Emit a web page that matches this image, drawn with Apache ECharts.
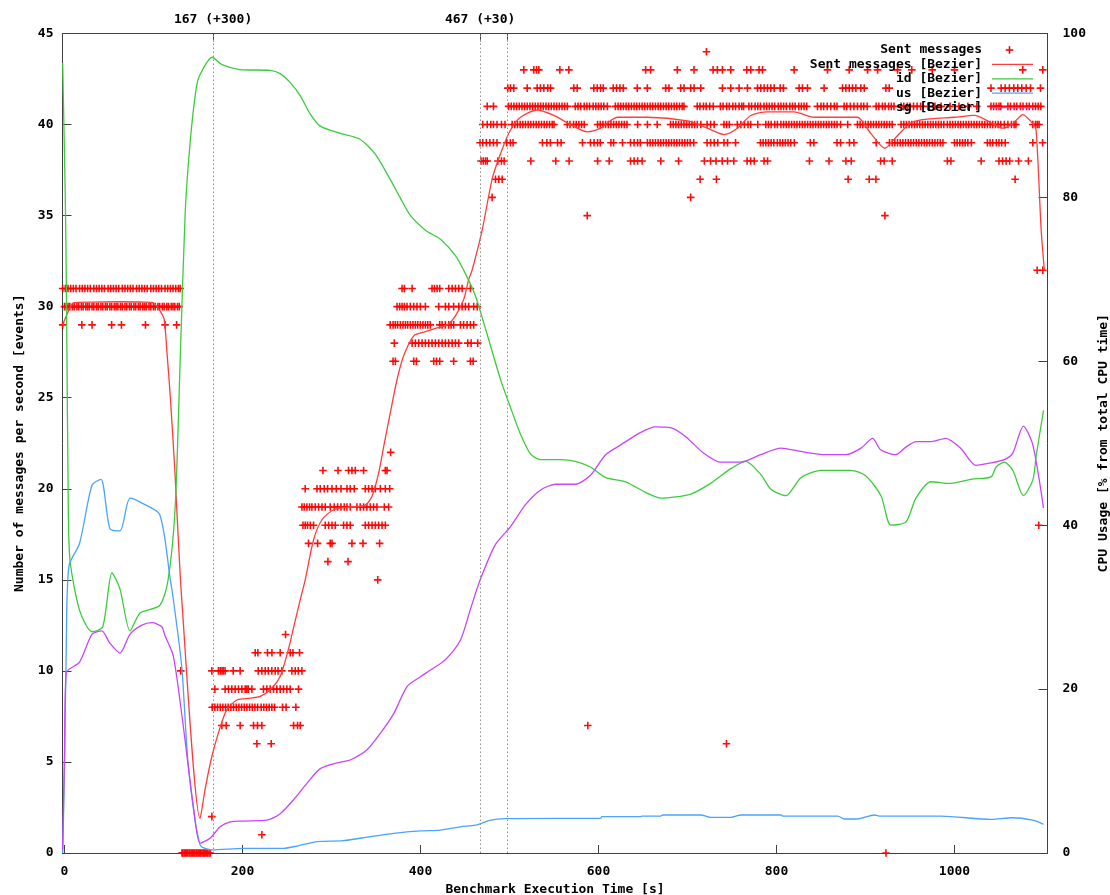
<!DOCTYPE html>
<html>
<head>
<meta charset="utf-8">
<script src="https://cdn.jsdelivr.net/npm/echarts@6/dist/echarts.min.js"></script>
<style>
html,body{margin:0;padding:0;background:#fff;overflow:hidden;}
#chart{width:1110px;height:895px;}
</style>
</head>
<body>
<div id="chart"></div>
<script>
// ---------- axis / label data ----------
const xTicks = [0, 200, 400, 600, 800, 1000];
const phaseMarks = [167, 467, 497];
const phaseLabelValues = [167, 467];
const phaseLabelTexts = ['167 (+300)', '467 (+30)'];
const leftTitle = 'Number of messages per second [events]';
const rightTitle = 'CPU Usage [% from total CPU time]';
const bottomTitle = 'Benchmark Execution Time [s]';
const legendNames = ['Sent messages', 'Sent messages [Bezier]', 'id [Bezier]', 'us [Bezier]', 'sg [Bezier]'];

// ---------- "Sent messages" points: [value, [x positions]] ----------
const sentPhase1 = [
  [31, [-2, 1, 4, 7, 10, 13, 17, 20, 23, 26, 29, 33, 36, 39, 42, 45, 49, 52, 55, 58, 61, 65, 68, 71, 74, 77, 81, 84, 87, 90, 93, 97, 100, 103, 106, 109, 113, 116, 119, 122, 125, 128, 130]],
  [30, [0, 2, 4, 6, 9, 11, 14, 16, 19, 21, 24, 26, 28, 31, 33, 36, 38, 41, 43, 46, 48, 51, 53, 56, 58, 60, 63, 65, 68, 70, 73, 75, 78, 80, 83, 85, 88, 90, 92, 95, 97, 100, 102, 105, 107, 110, 112, 115, 117, 120, 122, 124, 127, 129]],
  [29, [-2, 19.5, 31, 53, 64, 91, 113, 126]]
];
const sentIdle = [
  [0, [132, 133, 134.5, 136, 137, 138.5, 140, 141, 142.5, 144, 145, 146.5, 148, 149, 150.5, 152, 153, 154.5, 156, 157, 158.5, 160, 161, 162.5, 164, 923]],
  [2, [165.6]],
  [1, [221.8]]
];
const sentPhase2 = [
  [12, [248.4]],
  [11, [214.3, 217.3, 228.1, 233.1, 242.4, 253.7, 256.7, 264.1]],
  [10, [130.7, 165.6, 173, 175, 177, 178.5, 180.5, 189.6, 197.4, 217.7, 221.8, 225.6, 229, 233, 236.8, 240, 244.3, 255.5, 259.3, 262.7, 266.8]],
  [9, [169, 180.5, 184.3, 188, 191.8, 195.5, 199.3, 203, 204.8, 206.5, 210.6, 223.6, 227.4, 231.1, 234.9, 238.6, 242.4, 246.1, 249.9, 253.6, 263]],
  [8, [166, 169, 172, 175, 178, 181, 184, 187, 190, 193, 196, 199, 202, 205, 208, 211, 214, 217, 221, 224, 227, 230, 233, 236, 245, 249, 260]],
  [7, [176.8, 181.7, 197.4, 212.4, 216.9, 221.8, 257.4, 261.9, 264.9]],
  [6, [216.2, 232.3]]
];
const sentPhase3 = [
  [22, [366.5]],
  [21, [290.4, 307.3, 319.2, 323, 326.8, 336.1, 360.5, 362.4]],
  [20, [270.5, 283.7, 287.4, 291.9, 295.6, 300.6, 305.4, 310.7, 317.4, 321.1, 325.6, 338, 341.7, 345.6, 349.3, 354.9, 360.5, 365.4]],
  [19, [266.8, 269.4, 272.4, 275.4, 278, 281.8, 285.5, 289.3, 293, 298.6, 303.1, 306.9, 310.7, 314.4, 317.4, 321.1, 328.6, 332.3, 336.1, 339.8, 343.6, 347.3, 351.1, 359.4, 364.2]],
  [18, [268, 270.5, 273.1, 276.2, 279.9, 293, 296.8, 300.6, 304.3, 313.6, 317.4, 321.1, 338, 341.7, 345.6, 349.3, 353, 356.8, 360.5]],
  [17, [274.2, 284.4, 298.6, 300.6, 323, 335.4, 354.1]],
  [16, [296, 318.6]],
  [15, [352]]
];
const sentPhase4 = [
  [31, [379.3, 381.9, 390.6, 413, 415.7, 418.7, 421.6, 431.8, 435.6, 439.3, 443, 446.8, 456.1]],
  [30, [373.7, 376.6, 379.3, 381.9, 384.9, 388.6, 392.4, 396.1, 399.9, 405.5, 420.5, 428, 431.8, 437.3, 443, 446.8, 450.5, 454.2, 459.8, 463.7]],
  [29, [366, 369.2, 371.7, 374.3, 377.4, 380.4, 383.1, 385.6, 388.6, 391.6, 394.3, 396.9, 399.8, 402.8, 405.6, 408.2, 411, 421.6, 424.3, 428, 431.7, 434.4, 437.3, 444.9, 448.5, 452.4, 456.1, 459.8]],
  [28, [370.6, 390.6, 394.3, 398, 401.8, 405.5, 409.2, 413, 416.8, 420.5, 424.3, 428, 431.7, 435.6, 439.3, 443, 453.1, 456.9, 464.3]],
  [27, [369.2, 371.8, 392.4, 395.4, 414.9, 418, 421.6, 437.3, 456.1, 459.2]]
];
const sentPhase5 = [
  [44, [721.3]],
  [43, [516.1, 527.3, 530.4, 533, 556.6, 566.7, 653, 658.6, 688.6, 707.3, 728.7, 733.6, 739.3, 748.6, 766.6, 771.1, 780.4, 784.3, 819.8, 857.3, 881.7, 902.3, 913.6, 936, 952, 975, 1000, 1076.7, 1099.2]],
  [42, [498.1, 501.1, 504.8, 519.9, 531.1, 534.8, 538.6, 543, 546.1, 572.3, 576.1, 594.8, 598.6, 602.3, 605.4, 616.6, 620.3, 624.1, 627.9, 643.6, 654.9, 675.5, 679.2, 692.4, 696.1, 703.6, 707.4, 714.9, 739.3, 748.6, 758, 767.4, 778.7, 782.4, 786.1, 789.9, 793.6, 797.4, 804.1, 807.8, 825.4, 829.2, 834.8, 853.5, 874.2, 877.9, 881.7, 885.4, 889.2, 894.8, 898.6, 922.9, 926.7, 1041, 1052.4, 1056.9, 1061.7, 1066.6, 1071.1, 1075.6, 1080.5, 1085.4, 1096.6]],
  [41, [475, 482, 499, 502, 505, 508, 511, 514, 517, 520, 523, 526, 529, 532, 535, 538, 541, 544, 547, 550, 553, 556, 559, 562, 565, 574, 577, 580, 584, 587, 590, 594, 597, 600, 603, 606, 610, 619, 622, 625, 628, 631, 634, 637, 640, 643, 646, 649, 652, 655, 658, 661, 664, 667, 670, 673, 676, 679, 682, 685, 688, 691, 694, 696, 711, 714, 718, 721, 725, 729, 737, 740, 744, 747, 751, 754, 758, 761, 763, 769, 772, 776, 779, 782, 786, 789, 792, 795, 798, 802, 805, 808, 811, 815, 818, 821, 825, 828, 831, 834, 846, 850, 853, 857, 861, 865, 868, 876, 879, 883, 887, 891, 895, 898, 902, 912, 915, 919, 922, 926, 929, 932, 940, 943, 947, 950, 954, 958, 962, 970, 978, 985, 995, 1005, 1015, 1025, 1041, 1044, 1047, 1050, 1052, 1060, 1063, 1067, 1070, 1074, 1077, 1081, 1084, 1088, 1091, 1094, 1097]],
  [40, [470, 475, 479, 482, 486, 491, 495, 503, 506, 509, 512, 515, 518, 521, 524, 527, 530, 533, 536, 539, 542, 545, 548, 550, 565, 568, 572, 575, 578, 581, 584, 599, 602, 605, 608, 611, 614, 617, 620, 623, 626, 629, 632, 644, 655, 666, 681, 684, 687, 690, 693, 696, 699, 702, 705, 708, 711, 715, 722, 726, 730, 741, 744, 747, 756, 760, 764, 768, 771, 779, 788, 791, 794, 798, 801, 805, 808, 811, 814, 817, 820, 823, 826, 829, 832, 835, 838, 841, 844, 847, 850, 853, 856, 859, 862, 865, 868, 872, 880, 891, 894, 897, 900, 903, 906, 909, 912, 915, 918, 921, 924, 927, 930, 940, 943, 946, 949, 952, 955, 958, 961, 964, 967, 970, 973, 976, 979, 982, 985, 988, 992, 995, 998, 1001, 1004, 1007, 1010, 1013, 1016, 1019, 1022, 1025, 1028, 1031, 1034, 1037, 1040, 1043, 1046, 1049, 1052, 1056, 1060, 1064, 1067, 1069, 1088, 1091, 1093, 1095]],
  [39, [467, 470, 474, 478, 482, 486, 497, 501, 504, 537, 542, 546, 554, 558, 582, 591, 595, 599, 602, 614, 617, 627, 636, 640, 644, 647, 655, 658, 661, 664, 667, 670, 673, 676, 679, 682, 685, 688, 691, 694, 697, 700, 703, 707, 722, 726, 730, 734, 741, 745, 754, 782, 785, 788, 791, 794, 797, 801, 804, 807, 810, 813, 816, 820, 838, 842, 868, 872, 882, 887, 912, 927, 930, 933, 936, 939, 942, 945, 948, 951, 954, 957, 960, 963, 966, 969, 972, 975, 978, 981, 984, 987, 1000, 1003, 1006, 1009, 1012, 1015, 1019, 1037, 1040, 1043, 1047, 1050, 1053, 1057, 1088, 1099]],
  [38, [468, 470.5, 473, 475, 487, 491, 494, 524, 552, 567, 599, 612, 636, 640, 644, 649, 670, 690, 719, 726, 732, 739, 745, 752, 767, 771, 775, 786, 790, 837, 859, 878, 884, 917, 921, 930, 992, 996, 1030, 1050, 1054, 1058, 1062, 1072, 1083]],
  [37, [484.3, 488, 491.8, 714.2, 732.5, 880.5, 904.2, 911.7, 1068.1]],
  [36, [480.5, 703.6]],
  [35, [587.4, 921.8]],
  [32, [1092.9, 1099.2]],
  [18, [1094.7]],
  [7, [588]],
  [6, [743.8]]
];

// ---------- Bezier curves ----------
const sentBezier = [[-2, 29], [3, 29.6], [10, 30.2], [30, 30.25], [60, 30.27], [90, 30.25], [100, 30.2], [107, 29.8], [112, 29.3], [115, 27.6], [119, 25], [124, 21], [131.8, 13.9], [152.4, 1.9], [158, 3.5], [165.6, 5.3], [174.9, 6.9], [182.4, 7.86], [193.7, 8.4], [208.7, 8.5], [220, 8.6], [231.2, 8.96], [242.4, 9.7], [251.7, 11.2], [258, 12.5], [264.9, 13.9], [270.5, 15], [279.9, 17.2], [289.3, 18.3], [302.4, 18.85], [321.1, 19], [338, 19.1], [345.6, 19.6], [353, 20.86], [358.6, 22.3], [366.2, 24.2], [373.7, 26], [381.1, 27.3], [392.4, 28.4], [403.6, 28.6], [416, 28.8], [429.9, 29], [439.3, 29.5], [448.6, 30.4], [454.2, 31.5], [458, 32], [469.3, 34.2], [480.5, 37], [489.9, 38.4], [501.1, 39.7], [512.4, 40.4], [531.1, 40.8], [549.8, 40.5], [568.6, 40], [587.4, 39.6], [602.4, 39.8], [621.1, 40.4], [654.9, 40.4], [699.9, 40.2], [722.4, 39.8], [741.1, 39.45], [756.1, 39.8], [771.1, 40.5], [789.9, 40.7], [819.8, 40.7], [842.3, 40.4], [883.6, 40.4], [891.1, 40.4], [906.1, 39.5], [921.8, 38.7], [932.3, 39.2], [951.1, 40.1], [969.8, 40.3], [999.8, 40.4], [1022.3, 40.5], [1041.1, 40.1], [1054.2, 39.8], [1065.5, 40.05], [1076.7, 40.55], [1088, 40.05], [1091.7, 39.7], [1097.4, 34.2], [1101, 32]];
const idBezier = [[-2, 96.4], [0.6, 82], [1.7, 74], [2.8, 61], [4, 46], [6, 36], [17, 29.6], [31, 27], [43, 27.6], [53.4, 34.2], [62.4, 32.2], [73.7, 27.1], [85, 29.3], [107, 30.2], [116.4, 33.3], [124.3, 42], [130, 60], [135.6, 78], [141.2, 86.7], [148, 93.3], [152.4, 95], [166, 97.1], [177, 96.2], [197, 95.6], [231, 95.5], [242.4, 95.1], [253.7, 94], [265, 92.4], [276, 90.2], [287.4, 88.7], [310, 87.8], [332, 87.1], [349, 85.3], [366, 82.2], [377, 80], [388.6, 77.8], [405.5, 76], [422.4, 74.9], [439.3, 72.9], [450.5, 70.7], [461.7, 68], [473, 64], [489.9, 57.8], [501, 54.4], [512.4, 51.1], [523.6, 48.7], [535, 48], [557, 48], [574, 47.8], [591, 47.1], [608, 45.8], [630.5, 45.3], [653, 44], [670, 43.3], [703.6, 43.8], [726, 45.1], [748.6, 46.9], [765.5, 47.8], [782.3, 46.2], [793.6, 44.4], [810.5, 43.6], [827.4, 45.8], [849.9, 46.7], [883.6, 46.7], [900.5, 46], [917.4, 43.6], [928.6, 40], [945.5, 40.4], [956.7, 43.3], [973.6, 45.3], [996, 45.1], [1018.6, 45.6], [1041.1, 45.9], [1046.7, 47.1], [1056, 47.7], [1065.5, 46.7], [1077.4, 43.6], [1088, 45.5], [1091.7, 48.4], [1100, 54]];
const usBezier = [[-2, 0], [0, 10], [2, 25], [5, 35], [17, 37.8], [31, 44.9], [41, 45.6], [51, 39.6], [62.4, 39.3], [73.7, 43.3], [87, 42.7], [107, 41.3], [119, 33.3], [122.4, 30.9], [131.8, 22.7], [139.3, 10.5], [152.4, 1], [165.6, 0.37], [201.1, 0.57], [246.1, 0.57], [261.2, 0.85], [283.7, 1.4], [313.6, 1.5], [343.6, 2], [369.9, 2.4], [399.9, 2.7], [422, 2.8], [445, 3.2], [462, 3.4], [479, 4], [495, 4.2], [557, 4.23], [602, 4.23], [604, 4.43], [647, 4.43], [649, 4.5], [670, 4.5], [672, 4.64], [715, 4.64], [726, 4.35], [749, 4.35], [760, 4.64], [805, 4.64], [807, 4.5], [869, 4.5], [876, 4.15], [891, 4.15], [910, 4.64], [917, 4.5], [985, 4.5], [1041, 4.1], [1065, 4.3], [1088, 4.0], [1100, 3.5]];
const sgBezier = [[-2, 0.5], [0, 12], [2, 22], [17, 23.3], [31, 26.7], [42, 27.1], [51, 25.6], [62.4, 24.4], [73.7, 26.7], [87, 27.8], [98.4, 28.1], [109.3, 27.6], [113, 26.5], [122.4, 24], [133.6, 15.4], [144.9, 5.65], [152.4, 1.2], [163.7, 1.8], [174.9, 3.2], [186.2, 3.8], [201.1, 3.9], [227.4, 4.0], [242.4, 4.8], [257.4, 6.5], [272.4, 8.5], [287.4, 10.3], [310, 11.1], [321.1, 11.35], [340, 12.6], [354.9, 14.6], [369.9, 17], [384.9, 20.3], [399.9, 21.5], [411, 22.3], [428, 23.6], [445, 26], [456, 29.7], [467, 33.3], [484, 37.6], [501, 39.8], [518, 42.5], [535, 44.3], [552, 45], [574, 45], [591, 46.1], [608, 48.6], [625, 49.8], [647, 51.3], [664, 52], [681, 51.9], [698, 50.8], [717, 48.9], [737, 47.7], [760, 47.7], [782, 48.6], [805, 49.4], [827, 49], [855, 48.6], [878, 48.6], [895, 49.4], [908, 50.6], [917, 49.2], [934, 48.6], [945, 49.5], [957, 50.2], [974, 50.2], [990, 50.6], [1007, 49.4], [1024, 47.3], [1041.1, 47.6], [1056, 48], [1065.5, 48.8], [1077.4, 52.1], [1088, 49.8], [1100, 42.1]];

// ---------- build ----------
function expandRows(groups) {
  const out = [];
  groups.forEach(rows => rows.forEach(([v, xs]) => xs.forEach(x => out.push([x, v]))));
  return out;
}
const sentPoints = expandRows([sentPhase1, sentIdle, sentPhase2, sentPhase3, sentPhase4, sentPhase5]);

const FONT = 'DejaVu Sans Mono';
const txt = { fontFamily: FONT, fontSize: 13, fontWeight: 'bold', color: '#000' };
const FRAME = '#404040';
const PLUS = 'path://M3,0H4.6V7.6H3Z M0,3H7.6V4.6H0Z';
const colors = { pts: '#ff0000', sent: '#ff3c3c', id: '#3ccc3c', us: '#4aa3ff', sg: '#c844ff' };

const XMIN = -2.2, XMAX = 1104.5;
const plain = v => String(v);

const chart = echarts.init(document.getElementById('chart'), null, { renderer: 'canvas', width: 1110, height: 895 });

// legend drawn as graphic (right-aligned texts, samples aligned on the right)
const legX = 982, legY0 = 50, legDy = 14.4;
const legendGraphics = [];
const legColors = [colors.pts, colors.sent, colors.id, colors.us, colors.sg];
legendNames.forEach((n, i) => {
  const y = legY0 + i * legDy;
  legendGraphics.push({ type: 'text', x: legX, y: y, z: 100,
    style: { text: n, textAlign: 'right', textVerticalAlign: 'middle', font: 'bold 13px "' + FONT + '"', fill: '#000' } });
  if (i === 0) {
    legendGraphics.push({ type: 'rect', z: 100, shape: { x: 1008.7, y: y - 3.8, width: 1.6, height: 7.6 }, style: { fill: colors.pts } });
    legendGraphics.push({ type: 'rect', z: 100, shape: { x: 1005.7, y: y - 0.8, width: 7.6, height: 1.6 }, style: { fill: colors.pts } });
  } else {
    legendGraphics.push({ type: 'line', z: 100, shape: { x1: 992, y1: y, x2: 1033, y2: y }, style: { stroke: legColors[i], lineWidth: 1.3 } });
  }
});

const option = {
  animation: false,
  backgroundColor: '#fff',
  grid: { left: 62.5, right: 62.5, top: 33.5, bottom: 42, containLabel: false, outerBoundsMode: 'none' },
  xAxis: [
    {
      type: 'value', position: 'bottom', min: XMIN, max: XMAX,
      name: bottomTitle, nameLocation: 'middle', nameGap: 29, nameTextStyle: txt,
      axisLine: { show: true, onZero: false, lineStyle: { color: FRAME, width: 1 } },
      axisTick: { show: true, inside: true, length: 8, customValues: xTicks, lineStyle: { color: FRAME } },
      axisLabel: { show: true, customValues: xTicks, margin: 12, formatter: plain, ...txt },
      splitLine: { show: false }
    },
    {
      type: 'value', position: 'top', min: XMIN, max: XMAX,
      axisLine: { show: true, onZero: false, lineStyle: { color: FRAME, width: 1 } },
      axisTick: { show: true, inside: true, length: 8, customValues: phaseMarks, lineStyle: { color: FRAME } },
      axisLabel: { show: true, customValues: phaseLabelValues, margin: 7, ...txt,
        formatter: v => { const i = phaseLabelValues.indexOf(v); return i >= 0 ? phaseLabelTexts[i] : ''; } },
      splitLine: { show: false }
    }
  ],
  yAxis: [
    {
      type: 'value', position: 'left', min: 0, max: 45, interval: 5,
      name: leftTitle, nameLocation: 'middle', nameGap: 36, nameRotate: 90, nameTextStyle: txt,
      axisLine: { show: true, onZero: false, lineStyle: { color: FRAME, width: 1 } },
      axisTick: { show: true, inside: true, length: 9, lineStyle: { color: FRAME } },
      axisLabel: { margin: 9, formatter: plain, ...txt },
      splitLine: { show: false }
    },
    {
      type: 'value', position: 'right', min: 0, max: 100, interval: 20,
      name: rightTitle, nameLocation: 'middle', nameGap: 49, nameRotate: 90, nameTextStyle: txt,
      axisLine: { show: true, onZero: false, lineStyle: { color: FRAME, width: 1 } },
      axisTick: { show: true, inside: true, length: 9, lineStyle: { color: FRAME } },
      axisLabel: { margin: 15, formatter: plain, ...txt },
      splitLine: { show: false }
    }
  ],
  graphic: legendGraphics,
  series: [
    {
      name: legendNames[0], type: 'scatter', xAxisIndex: 0, yAxisIndex: 0,
      data: sentPoints, symbol: PLUS, symbolSize: 7.6,
      itemStyle: { color: colors.pts, opacity: 0.95 },
      emphasis: { disabled: true }, silent: true, z: 2,
      markLine: {
        silent: true, symbol: ['none', 'none'], label: { show: false },
        lineStyle: { color: '#909090', type: [1.5, 2.5], width: 1 },
        data: phaseMarks.map(v => ({ xAxis: v }))
      }
    },
    { name: legendNames[1], type: 'line', xAxisIndex: 0, yAxisIndex: 0, data: sentBezier, showSymbol: false, smooth: 0.25,
      lineStyle: { color: colors.sent, width: 1.3 }, itemStyle: { color: colors.sent }, silent: true, z: 3 },
    { name: legendNames[2], type: 'line', xAxisIndex: 0, yAxisIndex: 1, data: idBezier, showSymbol: false, smooth: 0.25,
      lineStyle: { color: colors.id, width: 1.3 }, itemStyle: { color: colors.id }, silent: true, z: 3 },
    { name: legendNames[3], type: 'line', xAxisIndex: 0, yAxisIndex: 1, data: usBezier, showSymbol: false, smooth: 0.25,
      lineStyle: { color: colors.us, width: 1.3 }, itemStyle: { color: colors.us }, silent: true, z: 3 },
    { name: legendNames[4], type: 'line', xAxisIndex: 0, yAxisIndex: 1, data: sgBezier, showSymbol: false, smooth: 0.25,
      lineStyle: { color: colors.sg, width: 1.3 }, itemStyle: { color: colors.sg }, silent: true, z: 3 }
  ]
};
chart.setOption(option);
</script>
</body>
</html>
